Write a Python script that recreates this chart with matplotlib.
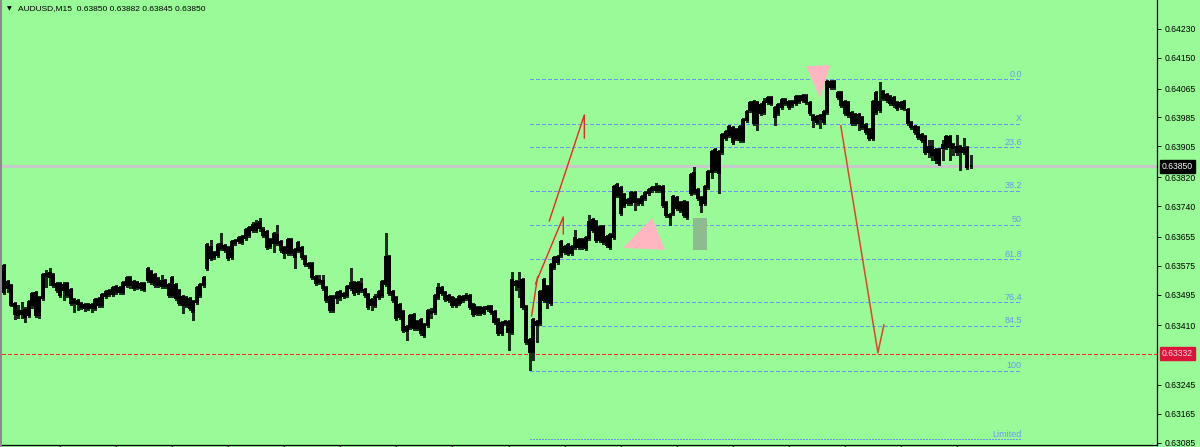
import numpy as np
import matplotlib
matplotlib.use("Agg")
import matplotlib.pyplot as plt
from matplotlib.patches import Polygon, Rectangle
from matplotlib.lines import Line2D
import matplotlib.transforms as mtrans

title_text = "AUDUSD,M15  0.63850 0.63882 0.63845 0.63850"

# OHLC in 1e-5 price units (points)
opens = [
    63574,63530,63519,63469,63439,63450,63433,63439,63497,63500, 63439,63486,63547,63555,63549,63524,63494,63522,63524,63508,
    63480,63477,63469,63466,63458,63458,63458,63466,63466,63491, 63497,63497,63516,63502,63502,63522,63541,63530,63527,63524,
    63511,63566,63558,63549,63538,63533,63533,63494,63541,63522, 63505,63489,63486,63483,63447,63475,63494,63522,63569,63627,
    63599,63605,63635,63630,63596,63599,63638,63643,63641,63652,
    63660,63674,63674,63696,63674,63668,63630,63663,63660,63641, 63610,63646,63646,63599,63638,63624,63599,63580,63580,63544,
    63536,63533,63513,63489,63453,63500,63502,63491,63494,63527, 63527,63527,63524,63508,63494,63466,63466,63489,63494,63599,
    63599,63502,63486,63466,63447,63394,63436,63439,63419,63425, 63383,63411,63444,63447,63489,63513,63500,63491,63486,63466,
    63472,63480,63491,63491,63466,63458,63444,63447,63461,63461, 63447,63425,63389,
    63419,63392,63392,63530,63530,63536,63461,63336,63336,63411, 63417,63536,63475,63472,63572,63585,63641,63613,63632,63610,
    63652,63627,63627,63624,63652,63702,63696,63682,63682,63655, 63627,63655,63798,63721,63771,63749,63749,63776,63749,63749,
    63762,63776,63785,63793,63793,63793,63749,63710,63765,63762, 63749,63751,63710,63776,63832,63785,63743,63749,63793,
    63834,63895,63832,63890,63929,63959,63956,63929,63959,
    63923,63978,64006,64028,63970,63998,64000,64028,64039,63986, 63998,64014,64033,64014,64020,64025,64031,64044,64044,64025,
    63989,63973,63989,63973,64000,64083,64083,64053,64053,64028, 64025,63997,63970,63992,63984,63964,63950,63929,64053,64006,
    64056,64047,64042,64039,64011,64025,64011,64006,63970,
    63959,63956,63937,63931,63890,63903,63867,63859,63901,63931, 63931,63909,63890,63903,63901,63901,63850,
]
highs = [
    63580,63536,63524,63475,63466,63475,63461,63480,63502,63505, 63491,63555,63563,63569,63555,63530,63530,63530,63530,63513,
    63486,63483,63475,63472,63472,63472,63486,63489,63500,63508, 63511,63519,63522,63519,63533,63547,63547,63536,63533,63530,
    63530,63572,63563,63555,63544,63549,63538,63527,63547,63527, 63511,63494,63491,63489,63480,63519,63527,63547,63638,63646,
    63616,63638,63666,63635,63630,63646,63649,63657,63660,63679,
    63685,63696,63702,63707,63682,63674,63652,63668,63688,63646, 63630,63652,63652,63624,63643,63630,63605,63585,63585,63549,
    63549,63549,63519,63494,63494,63505,63508,63502,63522,63569, 63533,63533,63541,63513,63500,63486,63497,63508,63536,63666,
    63605,63508,63491,63472,63453,63411,63441,63444,63425,63430, 63417,63455,63458,63497,63527,63519,63505,63497,63491,63486,
    63494,63494,63500,63497,63472,63463,63463,63463,63466,63466, 63453,63430,63422,
    63425,63425,63558,63536,63558,63541,63466,63375,63430,63425, 63508,63541,63522,63583,63602,63605,63646,63632,63638,63632,
    63674,63652,63652,63657,63715,63707,63702,63688,63688,63660, 63666,63798,63804,63796,63776,63762,63782,63782,63762,63771,
    63782,63790,63796,63804,63798,63798,63754,63721,63771,63768, 63754,63757,63754,63832,63848,63790,63768,63798,63840,
    63895,63901,63895,63942,63950,63964,63962,63956,63964,
    63984,64006,64031,64033,64031,64025,64039,64045,64045,64017, 64025,64039,64039,64033,64033,64047,64047,64050,64050,64031,
    63995,63992,63995,64006,64089,64089,64089,64058,64058,64033, 64031,64003,63997,63997,63989,63970,63956,64033,64058,64083,
    64061,64053,64047,64045,64031,64031,64033,64011,63975,
    63964,63962,63942,63937,63923,63923,63901,63901,63923,63937, 63937,63914,63937,63909,63928,63906,63882,
]
lows = [
    63497,63502,63464,63428,63430,63430,63420,63433,63458,63433, 63430,63480,63516,63522,63516,63502,63489,63480,63489,63466,
    63447,63453,63455,63450,63453,63447,63453,63461,63461,63486, 63491,63491,63497,63497,63497,63516,63513,63508,63511,63508,
    63505,63530,63524,63516,63516,63513,63513,63489,63489,63480, 63466,63444,63461,63453,63425,63469,63489,63516,63563,63591,
    63594,63599,63619,63613,63591,63594,63632,63638,63635,63646,
    63655,63668,63668,63671,63655,63621,63624,63613,63632,63613, 63596,63605,63605,63569,63613,63594,63574,63569,63538,63522,
    63524,63508,63475,63447,63447,63472,63480,63486,63489,63508, 63494,63497,63502,63489,63455,63453,63461,63483,63489,63519,
    63494,63475,63425,63428,63392,63370,63400,63397,63397,63383, 63378,63406,63430,63441,63483,63494,63477,63475,63461,63461,
    63466,63475,63480,63455,63436,63439,63439,63441,63450,63441, 63414,63383,63383,
    63411,63342,63386,63508,63489,63455,63359,63287,63314,63364, 63411,63475,63458,63466,63566,63580,63599,63608,63605,63605,
    63621,63621,63621,63619,63646,63668,63641,63641,63635,63627, 63621,63649,63765,63715,63737,63743,63743,63729,63743,63743,
    63757,63771,63779,63779,63779,63737,63710,63688,63715,63729, 63724,63710,63704,63771,63774,63757,63724,63743,63787,
    63818,63834,63776,63884,63923,63931,63912,63923,63917,
    63917,63973,64000,63964,63950,63992,63995,64022,64020,63964, 63992,64008,64020,64008,64014,64020,64025,64028,64022,63992,
    63959,63967,63956,63967,63995,64064,64064,64036,64014,63992, 63986,63964,63964,63950,63953,63939,63923,63923,63995,64000,
    64033,64028,64020,64014,64006,64008,64006,63964,63953,
    63939,63926,63917,63884,63876,63867,63859,63854,63867,63898, 63867,63881,63881,63840,63884,63843,63845,
]
closes = [
    63502,63513,63466,63441,63450,63441,63453,63475,63466,63439, 63486,63549,63552,63544,63522,63508,63524,63508,63494,63472,
    63472,63469,63461,63458,63466,63466,63480,63483,63494,63502, 63505,63513,63502,63513,63527,63541,63522,63513,63516,63513,
    63524,63536,63530,63522,63522,63519,63519,63522,63494,63486, 63472,63466,63466,63458,63475,63513,63522,63541,63632,63596,
    63610,63632,63624,63619,63624,63641,63643,63652,63655,63674,
    63679,63688,63690,63679,63660,63627,63646,63638,63638,63619, 63624,63610,63610,63619,63619,63599,63580,63574,63544,63527,
    63530,63513,63480,63453,63489,63486,63489,63497,63516,63513, 63500,63502,63508,63494,63461,63480,63489,63502,63530,63524,
    63500,63480,63430,63433,63397,63406,63406,63403,63403,63389, 63411,63450,63447,63491,63513,63500,63483,63480,63466,63480,
    63489,63489,63486,63461,63441,63444,63458,63458,63455,63447, 63419,63389,63417,
    63417,63419,63536,63522,63516,63461,63364,63370,63425,63419, 63502,63480,63516,63577,63596,63599,63605,63627,63610,63627,
    63627,63646,63646,63652,63696,63674,63646,63646,63641,63632, 63660,63793,63771,63790,63743,63757,63776,63751,63757,63765,
    63776,63785,63790,63785,63785,63743,63715,63715,63721,63735, 63729,63715,63749,63826,63779,63762,63762,63793,63834,
    63890,63840,63890,63937,63945,63937,63917,63950,63923,
    63978,64000,64025,63970,64025,64020,64028,64039,64025,64011, 64020,64033,64025,64028,64028,64042,64042,64033,64028,63998,
    63978,63986,63981,64000,64083,64069,64069,64042,64020,63998, 63992,63970,63992,63970,63959,63945,63929,64028,64000,64028,
    64039,64033,64025,64020,64025,64014,64028,63970,63959,
    63945,63931,63923,63890,63903,63881,63895,63895,63909,63903, 63903,63901,63903,63890,63890,63848,63850,
]

bid_price = 0.63850
alert_price = 0.63332
price_ticks = [0.64230, 0.64150, 0.64065, 0.63985, 0.63905, 0.63820, 0.63740,
               0.63655, 0.63575, 0.63495, 0.63410, 0.63245, 0.63165, 0.63085]

fib_labels = ["0.0", "X", "23.6", "38.2", "50", "61.8", "76.4", "84.5", "100", "Limited"]
fib_prices = [0.64091, 0.63967, 0.63902, 0.63783, 0.63688, 0.63593, 0.63474, 0.63409, 0.63285, 0.63095]
fib_bars = [150.1, 290.6]

red1_bars = [150.6, 152.3]
red1_prices = [0.63436, 0.63544]
red2_bars = [151.7, 159.65, 159.65]
red2_prices = [0.63525, 0.63710, 0.63663]
red3_bars = [155.65, 165.65, 165.65]
red3_prices = [0.63699, 0.63992, 0.63928]
red4_bars = [238.9, 249.5, 251.2]
red4_prices = [0.63962, 0.63334, 0.63411]

up_tri_bars = [176.7, 185.0, 188.7]
up_tri_prices = [0.63624, 0.63707, 0.63619]
down_tri_bars = [228.96, 235.8, 233.0]
down_tri_prices = [0.64127, 0.64130, 0.64039]
box_bars = [196.7, 200.7]
box_prices = [0.63619, 0.63707]

# ---------------------------------------------------------------
PT = 1e-5
n = min(len(opens), len(highs), len(lows), len(closes))
o = np.array(opens[:n]) * PT
h = np.array(highs[:n]) * PT
l = np.array(lows[:n]) * PT
c = np.array(closes[:n]) * PT
xi = np.arange(n)

W, H = 1200, 447
BG = "#98FB98"
FONT = "Liberation Sans"
FIB = "#6A98EC"

fig = plt.figure(figsize=(W / 100, H / 100), dpi=100, facecolor=BG)
ax = fig.add_axes([2 / W, 2 / H, 1155 / W, 445 / H], facecolor=BG)

first_px, last_px = 4.3, 970.7
step = (last_px - first_px) / (n - 1)
ax.set_xlim((2 - first_px) / step, (1157 - first_px) / step)
ax.set_ylim(0.63079, 0.64310)

# bid line and alert line
ax.axhline(bid_price, color="#C8C8C8", lw=1.0, zorder=1, antialiased=False)
ax.axhline(alert_price, color="#FF2A2A", lw=1.0, ls=(0, (2.2, 1.6)), zorder=2, antialiased=False)

# fibonacci levels
for lab, pr in zip(fib_labels, fib_prices):
    ls = (0, (0.8, 0.8)) if lab == "Limited" else (0, (2.6, 1.8))
    ax.plot(fib_bars, [pr, pr], color=FIB, lw=1.0, ls=ls, zorder=2, antialiased=False)
    ax.annotate(lab, xy=(fib_bars[1], pr), xytext=(0, 1.8), textcoords="offset points",
                ha="right", va="baseline", fontsize=6.5, color=FIB, family=FONT, zorder=3)

# shapes
ax.add_patch(Polygon(np.column_stack([up_tri_bars, up_tri_prices]), closed=True,
                     fc="#FFB6C1", ec="none", zorder=3))
ax.add_patch(Polygon(np.column_stack([down_tri_bars, down_tri_prices]), closed=True,
                     fc="#FFB6C1", ec="none", zorder=3))
ax.add_patch(Rectangle((box_bars[0], box_prices[0]), box_bars[1] - box_bars[0],
                       box_prices[1] - box_prices[0], fc="#8FBC8F", ec="none", zorder=3))

# candles
ax.vlines(xi, l, h, color="#1c2c1c", lw=1.0, zorder=4, antialiased=False)
body_lo = np.minimum(o, c)
body_h = np.abs(c - o)
ax.bar(xi, body_h, bottom=body_lo, width=0.58, color="black", edgecolor="black",
       linewidth=0.3, zorder=5, antialiased=False)

# red drawn lines
for bx, by in [(red1_bars, red1_prices), (red2_bars, red2_prices), (red3_bars, red3_prices)]:
    ax.plot(bx, by, color="#FF2020", lw=1.0, zorder=6)
ax.plot(red4_bars, red4_prices, color="#E8402A", lw=1.1, zorder=6)

# axes styling
for s in ["left", "top"]:
    ax.spines[s].set_visible(False)
for s in ["right", "bottom"]:
    ax.spines[s].set_color("black")
    ax.spines[s].set_linewidth(0.9)
ax.yaxis.set_ticks_position("right")
ax.set_yticks(price_ticks)
ax.set_yticklabels([f"{v:.5f}" for v in price_ticks], fontsize=6.2, family=FONT)
ax.tick_params(axis="y", length=3, width=0.7, pad=2.5, colors="black")
ax.set_xticks(np.arange(16, n, 16))
ax.set_xticklabels([])
ax.tick_params(axis="x", length=3, width=0.7, colors="black")

# price boxes on the right scale
tr = mtrans.blended_transform_factory(ax.transAxes, ax.transData)
ax.text(1 + 5 / 1155, bid_price, f"{bid_price:.5f}", transform=tr, ha="left", va="center",
        fontsize=6.2, color="white", family=FONT, zorder=10, clip_on=False,
        bbox=dict(boxstyle="square,pad=0.25", fc="black", ec="black"))
ax.text(1 + 5 / 1155, alert_price, f"{alert_price:.5f}", transform=tr, ha="left", va="center",
        fontsize=6.2, color="#F4D8DC", family=FONT, zorder=10, clip_on=False,
        bbox=dict(boxstyle="square,pad=0.25", fc="#DC143C", ec="#DC143C"))

# window left border and title
fig.add_artist(Line2D([1 / W, 1 / W], [0, 1], transform=fig.transFigure, color="#8A8A8A", lw=1.5))
fig.text(7 / W, 1 - 9 / H, "\u25BC", fontsize=4.5, color="black", va="center", ha="left")
fig.text(18 / W, 1 - 8.5 / H, title_text, fontsize=6.0, color="black", va="center", ha="left",
         family=FONT)

fig.savefig("out.png", dpi=100, facecolor=BG)
